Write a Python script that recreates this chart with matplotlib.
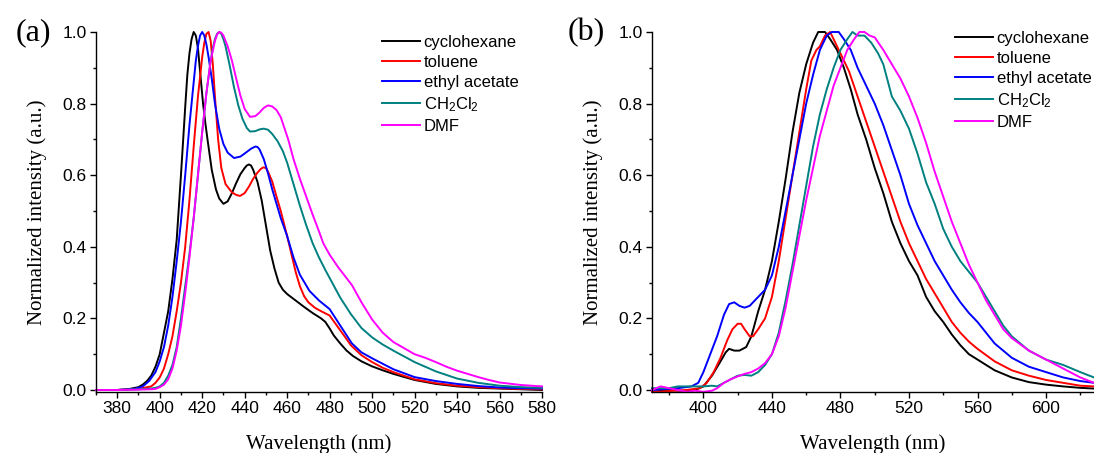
import matplotlib
matplotlib.use('Agg')
import matplotlib.pyplot as plt
from matplotlib.ticker import MultipleLocator, FormatStrFormatter

plt.rcParams['font.family'] = 'Liberation Sans'

SOLVENTS = ['cyclohexane', 'toluene', 'ethyl acetate', r'CH$\mathregular{_2}$Cl$\mathregular{_2}$', 'DMF']
COLORS = ['#000000', '#ff0000', '#0000ff', '#008080', '#ff00ff']

# ---- panel (a) ----
wl_a_cyc = [370, 380, 385, 390, 392, 394, 396, 398, 400, 402, 404, 406, 408, 410, 412, 413, 414, 415,
            416, 417, 418, 419, 420.4, 421.5, 422.5, 424.5, 426.5, 428, 430, 432, 434, 436, 438, 440,
            441, 442, 443, 444, 446, 448, 450, 452, 454, 456, 458, 460, 464, 468, 472, 476, 478, 480,
            482, 485, 488, 491, 495, 500, 505, 510, 520, 530, 540, 550, 560, 570, 580]
in_a_cyc = [0.0, 0.0, 0.002, 0.008, 0.015, 0.025, 0.04, 0.065, 0.1, 0.16, 0.22, 0.31, 0.42, 0.6, 0.79,
            0.88, 0.94, 0.98, 1.0, 0.99, 0.955, 0.89, 0.8, 0.745, 0.7, 0.615, 0.56, 0.535, 0.52, 0.527,
            0.55, 0.578, 0.603, 0.62, 0.627, 0.63, 0.627, 0.615, 0.582, 0.53, 0.46, 0.39, 0.34, 0.3,
            0.28, 0.268, 0.25, 0.232, 0.215, 0.2, 0.19, 0.172, 0.152, 0.13, 0.11, 0.095, 0.08, 0.066,
            0.055, 0.045, 0.028, 0.017, 0.01, 0.006, 0.004, 0.002, 0.0]

wl_a_tol = [370, 380, 390, 396, 398, 400, 402, 404, 406, 408, 410, 412, 414, 416, 418, 420, 421, 422,
            423, 424, 425, 426, 427.5, 429, 431, 434, 436, 437.8, 440, 442, 444, 446, 447.5, 448.8,
            450, 451, 453, 455, 457, 460, 462, 464, 466, 468, 470, 473, 476, 480, 484, 488, 490, 495,
            500, 505, 510, 520, 530, 540, 550, 560, 570, 580]
in_a_tol = [0.0, 0.0, 0.003, 0.01, 0.02, 0.035, 0.06, 0.1, 0.15, 0.22, 0.3, 0.4, 0.53, 0.68, 0.82,
            0.93, 0.97, 0.995, 1.0, 0.975, 0.91, 0.82, 0.7, 0.62, 0.575, 0.552, 0.545, 0.542, 0.55,
            0.568, 0.59, 0.607, 0.617, 0.622, 0.62, 0.61, 0.582, 0.54, 0.5, 0.43, 0.38, 0.33, 0.29,
            0.262, 0.245, 0.23, 0.22, 0.208, 0.175, 0.142, 0.125, 0.097, 0.078, 0.062, 0.05, 0.03,
            0.019, 0.012, 0.008, 0.005, 0.003, 0.002]

wl_a_eth = [370, 380, 388, 392, 395, 398, 400, 402, 404, 406, 408, 410, 412, 414, 416, 417, 418, 419,
            420, 421, 422, 423, 424.5, 426, 428, 430, 432, 435, 438, 441, 443, 445, 446, 447, 449,
            451, 453, 455, 457, 460, 463, 466, 470.5, 475, 480, 485, 490.5, 495, 500.5, 510, 520, 530,
            540, 550, 560, 570, 580]
in_a_eth = [0.0, 0.0, 0.003, 0.01, 0.025, 0.05, 0.08, 0.12, 0.18, 0.26, 0.36, 0.47, 0.6, 0.74, 0.86,
            0.92, 0.96, 0.99, 1.0, 0.99, 0.965, 0.93, 0.87, 0.8, 0.73, 0.687, 0.663, 0.648, 0.652,
            0.665, 0.674, 0.68, 0.679, 0.672, 0.645, 0.605, 0.56, 0.52, 0.48, 0.43, 0.37, 0.322, 0.277,
            0.25, 0.226, 0.18, 0.13, 0.105, 0.087, 0.058, 0.036, 0.025, 0.017, 0.011, 0.007, 0.005,
            0.004]

wl_a_dcm = [370, 380, 390, 396, 398, 400, 402, 404, 406, 408, 410, 412, 414, 416, 418, 420, 422, 424,
            425, 426, 427, 428, 429, 430, 431, 433, 435, 437, 439, 441, 442.5, 445, 447, 449, 451,
            453, 455.5, 458, 460, 463, 466, 469, 472, 475, 478, 481, 485, 490, 495, 500, 505, 510, 515,
            520, 530, 540, 550, 560, 570, 580]
in_a_dcm = [0.0, 0.0, 0.002, 0.004, 0.006, 0.01, 0.02, 0.04, 0.07, 0.12, 0.2, 0.29, 0.38, 0.48, 0.6,
            0.72, 0.83, 0.92, 0.955, 0.98, 0.995, 1.0, 0.995, 0.98, 0.96, 0.905, 0.845, 0.795, 0.757,
            0.732, 0.722, 0.723, 0.728, 0.73, 0.727, 0.715, 0.695, 0.667, 0.635, 0.575, 0.515, 0.46,
            0.41, 0.37, 0.335, 0.302, 0.258, 0.212, 0.173, 0.147, 0.127, 0.11, 0.094, 0.078, 0.052,
            0.032, 0.02, 0.012, 0.008, 0.006]

wl_a_dmf = [370, 380, 390, 396, 398, 400, 402, 404, 406, 408, 410, 412, 414, 416, 418, 420, 422, 424,
            426, 427, 428, 429, 430, 432, 434, 436, 438, 440, 442.5, 445, 447, 449, 451, 453, 455, 457,
            460.5, 463, 466, 469, 472, 475, 477, 480, 484, 487, 490.5, 495, 500, 505, 510, 515, 520,
            525, 530, 535, 540, 545, 550, 555, 560, 570, 580]
in_a_dmf = [0.0, 0.0, 0.001, 0.002, 0.003, 0.008, 0.015, 0.03, 0.06, 0.11, 0.18, 0.27, 0.37, 0.48,
            0.6, 0.72, 0.83, 0.92, 0.975, 0.993, 1.0, 0.998, 0.99, 0.96, 0.92, 0.87, 0.822, 0.785,
            0.763, 0.765, 0.775, 0.788, 0.795, 0.792, 0.782, 0.762, 0.7, 0.645, 0.59, 0.54, 0.49,
            0.443, 0.41, 0.378, 0.343, 0.32, 0.293, 0.245, 0.197, 0.16, 0.134, 0.117, 0.1, 0.09,
            0.078, 0.065, 0.054, 0.045, 0.036, 0.028, 0.021, 0.014, 0.01]

# ---- panel (b) ----
wl_b_cyc = [370, 380, 390, 395, 400, 405, 410, 413, 415, 418, 421, 425, 428, 432, 436, 440, 444, 448,
            452, 456, 460, 464, 467, 471, 474, 478, 482, 486, 490, 495, 500, 505, 510, 515, 520, 525,
            530, 535, 540, 545, 550, 555, 560, 570, 580, 590, 600, 610, 620, 628]
in_b_cyc = [-0.005, 0.0, -0.003, 0.0, 0.01, 0.04, 0.08, 0.105, 0.115, 0.11, 0.11, 0.12, 0.15, 0.22,
            0.28, 0.36, 0.47, 0.59, 0.72, 0.83, 0.91, 0.97, 1.0, 1.0, 0.98, 0.95, 0.9, 0.84, 0.77,
            0.7, 0.62, 0.55, 0.47, 0.41, 0.36, 0.32, 0.26, 0.22, 0.19, 0.155, 0.125, 0.1, 0.085,
            0.055, 0.035, 0.022, 0.015, 0.01, 0.006, 0.004]

wl_b_tol = [370, 380, 390, 398, 402, 406, 410, 414, 417, 420, 422, 424, 427, 429, 432, 436, 440, 444,
            448, 452, 456, 460, 463, 466, 468, 471, 474, 477, 480, 485, 490, 495, 500, 505, 510, 515,
            520, 525, 530, 535, 540, 545, 550, 555, 560, 570, 580, 590, 600, 610, 620, 628]
in_b_tol = [-0.005, -0.003, 0.0, 0.005, 0.02, 0.05, 0.09, 0.14, 0.17, 0.185, 0.185, 0.17, 0.15, 0.15,
            0.17, 0.2, 0.26, 0.36, 0.48, 0.6, 0.72, 0.84, 0.92, 0.95, 0.96, 0.99, 1.0, 0.97, 0.94,
            0.89, 0.82, 0.75, 0.68, 0.61, 0.54, 0.47, 0.41, 0.36, 0.31, 0.27, 0.23, 0.19, 0.16, 0.135,
            0.115, 0.08, 0.055, 0.04, 0.028, 0.02, 0.012, 0.01]

wl_b_eth = [370, 385, 393, 397, 400, 404, 408, 412, 415, 418, 421, 424, 427, 430, 433, 436, 440, 444,
            448, 452, 456, 460, 464, 468, 472, 475, 479, 482, 486, 490, 495, 500, 505, 510, 515, 520,
            525, 530, 535, 540, 545, 550, 555, 560, 570, 580, 590, 600, 610, 620, 628]
in_b_eth = [0.0, 0.005, 0.01, 0.02, 0.05, 0.1, 0.15, 0.21, 0.24, 0.245, 0.235, 0.23, 0.235, 0.25,
            0.265, 0.28, 0.32, 0.4, 0.5, 0.6, 0.7, 0.8, 0.88, 0.95, 0.99, 1.0, 1.0, 0.98, 0.95, 0.9,
            0.85, 0.8, 0.74, 0.67, 0.6, 0.52, 0.46, 0.41, 0.36, 0.32, 0.28, 0.245, 0.215, 0.19, 0.13,
            0.09, 0.065, 0.05, 0.035, 0.025, 0.02]

wl_b_dcm = [370, 380, 385, 395, 400, 405, 408, 412, 416, 420, 424, 428, 432, 436, 440, 444, 448, 452,
            456, 460, 464, 468, 472, 476, 480, 484, 487, 490, 494, 498, 502, 505, 510, 515, 520, 525,
            530, 535, 540, 545, 550, 555, 560, 565, 570, 575, 580, 585, 590, 600, 610, 620, 628]
in_b_dcm = [0.005, 0.005, 0.01, 0.01, 0.01, 0.012, 0.01, 0.02, 0.03, 0.04, 0.042, 0.04, 0.05, 0.07,
            0.1, 0.16, 0.25, 0.35, 0.46, 0.57, 0.68, 0.77, 0.84, 0.9, 0.95, 0.98, 1.0, 0.99, 0.99,
            0.97, 0.94, 0.91, 0.82, 0.78, 0.73, 0.66, 0.58, 0.52, 0.45, 0.4, 0.36, 0.33, 0.3, 0.26,
            0.22, 0.18, 0.15, 0.13, 0.11, 0.085, 0.07, 0.05, 0.035]

wl_b_dmf = [370, 375, 380, 385, 390, 395, 400, 405, 408, 412, 416, 420, 424, 428, 432, 436, 440, 444,
            448, 452, 456, 460, 464, 468, 472, 476, 480, 484, 488, 491, 494, 497, 500, 505, 510, 515,
            520, 525, 530, 535, 540, 545, 550, 555, 560, 565, 570, 575, 580, 590, 600, 610, 620, 628]
in_b_dmf = [0.0, 0.01, 0.005, 0.0, -0.005, -0.002, -0.005, -0.002, 0.005, 0.02, 0.03, 0.038, 0.045,
            0.05, 0.06, 0.075, 0.1, 0.15, 0.23, 0.33, 0.43, 0.53, 0.62, 0.71, 0.78, 0.85, 0.9, 0.95,
            0.98, 1.0, 1.0, 0.99, 0.985, 0.95, 0.91, 0.87, 0.82, 0.76, 0.69, 0.61, 0.54, 0.47, 0.41,
            0.35, 0.3, 0.25, 0.21, 0.17, 0.145, 0.11, 0.085, 0.06, 0.035, 0.02]

PANEL_A = [(wl_a_cyc, in_a_cyc), (wl_a_tol, in_a_tol), (wl_a_eth, in_a_eth),
           (wl_a_dcm, in_a_dcm), (wl_a_dmf, in_a_dmf)]
PANEL_B = [(wl_b_cyc, in_b_cyc), (wl_b_tol, in_b_tol), (wl_b_eth, in_b_eth),
           (wl_b_dcm, in_b_dcm), (wl_b_dmf, in_b_dmf)]

W, H = 1094, 453
fig = plt.figure(figsize=(W / 100, H / 100), dpi=100)


def panel(rect, series, xlim, xmajor, xminor, letter, letter_x, leg_x, leg_y):
    ax = fig.add_axes(rect)
    for (wl, it), lab, c in zip(series, SOLVENTS, COLORS):
        ax.plot(wl, it, color=c, lw=1.4, label=lab, clip_on=False, solid_joinstyle='round')
    ax.set_xlim(*xlim)
    ax.set_ylim(-0.0056, 1.0)
    ax.xaxis.set_major_locator(MultipleLocator(xmajor))
    ax.xaxis.set_minor_locator(MultipleLocator(xminor))
    ax.yaxis.set_major_locator(MultipleLocator(0.2))
    ax.yaxis.set_minor_locator(MultipleLocator(0.1))
    ax.yaxis.set_major_formatter(FormatStrFormatter('%.1f'))
    for s in ['top', 'right']:
        ax.spines[s].set_visible(False)
    for s in ['left', 'bottom']:
        ax.spines[s].set_linewidth(1.0)
    ax.tick_params(which='major', direction='out', length=4.5, width=1.0, labelsize=12.5, pad=2)
    ax.tick_params(which='minor', direction='out', length=2.5, width=1.0)
    ax.set_xlabel('Wavelength (nm)', fontfamily='Liberation Serif', fontsize=15, labelpad=13)
    ax.set_ylabel('Normalized intensity (a.u.)', fontfamily='Liberation Serif', fontsize=15, labelpad=11)
    fig.text(letter_x / W, 1 - 33 / H, letter, fontfamily='Liberation Serif', fontsize=23,
             ha='center', va='center')
    fig.legend(*ax.get_legend_handles_labels(), loc='upper left',
               bbox_to_anchor=(leg_x / W, 1 - leg_y / H), bbox_transform=fig.transFigure,
               frameon=False, fontsize=12, handlelength=2.3, handletextpad=0.2,
               labelspacing=0.3, borderpad=0, borderaxespad=0)
    return ax


panel([96 / W, 1 - 392 / H, 446 / W, 360 / H], PANEL_A, (370, 580), 20, 10, '(a)', 33, 382, 35)
panel([652 / W, 1 - 392 / H, 442 / W, 360 / H], PANEL_B, (370, 628), 40, 20, '(b)', 586, 955, 31)

fig.savefig('out.png', dpi=100)
